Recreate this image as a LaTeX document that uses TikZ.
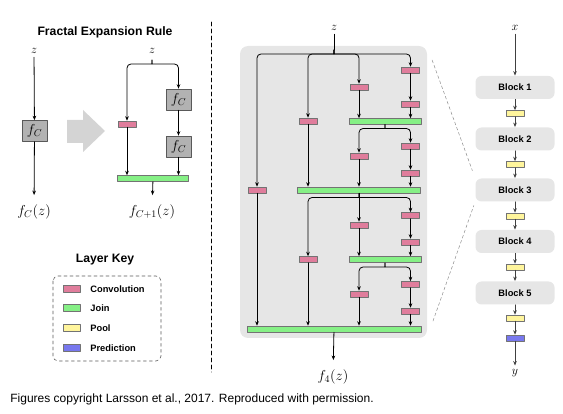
\documentclass[tikz,border=0pt]{standalone}
\usepackage{fontspec}
\setsansfont{Liberation Sans}
\usetikzlibrary{arrows.meta}
\definecolor{convpink}{HTML}{E07D9C}
\definecolor{joingreen}{HTML}{86F086}
\definecolor{poolyellow}{HTML}{FFF59C}
\definecolor{predblue}{HTML}{7878EE}
\definecolor{panelgray}{HTML}{E6E6E6}
\begin{document}
\begin{tikzpicture}[x=1pt, y=-1pt, line join=round, line cap=round, line width=0.8pt,
	>={Stealth[length=4.5pt,width=3.6pt]},
	lay/.style={draw=black!55, line width=0.5pt, minimum height=6pt, inner sep=0pt},
	conv/.style={lay, fill=convpink, minimum width=18pt},
	joinbar/.style={lay, fill=joingreen, minimum width=#1},
	pool/.style={lay, fill=poolyellow, minimum width=18pt},
	pred/.style={lay, fill=predblue, minimum width=18pt},
	fbox/.style={draw=black!65, line width=0.6pt, fill=black!30, minimum width=25pt, minimum height=21pt, inner sep=0pt, font=\fontsize{14}{16}\selectfont},
	block/.style={fill=panelgray, rounded corners=6pt, minimum width=79pt, minimum height=23pt, inner sep=0pt, font=\sffamily\bfseries\fontsize{9.3}{11}\selectfont},
	title/.style={font=\sffamily\bfseries\fontsize{12.2}{14}\selectfont},
	keylabel/.style={anchor=west, inner sep=0pt, font=\sffamily\bfseries\fontsize{9.3}{11}\selectfont},
	invar/.style={font=\fontsize{12}{14}\selectfont},
	outlabel/.style={font=\fontsize{14}{16}\selectfont}]
	\useasboundingbox (0,0) rectangle (563,414);
	\def\splitL#1#2#3{\draw[->, rounded corners=4pt] (#1,#2-4) .. controls (#1,#2) .. (#1-4,#2) -| (#3);}
	\def\splitR#1#2#3{\draw[->, rounded corners=4pt] (#1,#2-4) .. controls (#1,#2) .. (#1+4,#2) -| (#3);}
	
	% Fractal expansion rule
	\node[title] (rule) at (105,32) {Fractal Expansion Rule};
	\node[invar] (zL) at (34,51) {$z$};
	\node[fbox] (fL) at (34.5,131) {$f_C$};
	\node[outlabel] (outL) at (34,212) {$f_C(z)$};
	\draw[->] (zL) -- (fL);
	\draw[->, shorten >=6pt] (fL) -- (outL);
	\fill[black!17] (67,120) -- (83,120) -- (83,110) -- (105,131) -- (83,152) -- (83,143) -- (67,143) -- cycle;
	\node[invar] (zR) at (152,51) {$z$};
	\node[conv] (cR) at (127,124) {};
	\node[fbox] (fR1) at (178.5,99.5) {$f_C$};
	\node[fbox] (fR2) at (178.5,146.5) {$f_C$};
	\node[joinbar=71pt] (jR) at (153,178.5) {};
	\node[outlabel] (outR) at (152,212) {$f_{C+1}(z)$};
	\splitL{152}{64}{cR}
	\splitR{152}{64}{fR1}
	\draw[->] (fR1) -- (fR2);
	\draw[->] (fR2) -- (fR2 |- jR.north);
	\draw[->] (cR) -- (cR |- jR.north);
	\draw[->, shorten >=6pt] (jR) -- (outR);
	
	% Layer key
	\node[title] (key) at (105,260) {Layer Key};
	\draw[dashed, black!65, line width=0.6pt, rounded corners=5pt] (53,276) rectangle (161,361);
	\foreach \s/\t/\y in {conv/Convolution/289, pool/Pool/328, pred/Prediction/348}{
		\node[\s, minimum width=17pt, minimum height=7pt] (key\s) at (71.5,\y) {};
		\node[keylabel] (lab\s) at (90,\y) {\t};
	}
	\node[joinbar=17pt, minimum height=7pt] (keyjoin) at (71.5,308) {};
	\node[keylabel] (labjoin) at (90,308) {Join};
	
	\draw[dashed, line width=0.6pt, dash pattern=on 4pt off 3pt] (211,22) -- (211,372);
	
	% FractalNet block
	\fill[panelgray, rounded corners=8pt] (240,46) rectangle (427,338);
	\coordinate (bgNE) at (427,46);
	\coordinate (bgSE) at (427,338);
	\node[invar] (zM) at (334,28) {$z$};
	\coordinate (s0) at (334,50);
	\node[conv] (c1) at (257,190) {};
	\node[conv] (c2a) at (308,121) {};
	\node[conv] (c2b) at (308,259.5) {};
	\node[conv] (c3a) at (359,87) {};
	\node[conv] (c3b) at (359,156) {};
	\node[conv] (c3c) at (359,225) {};
	\node[conv] (c3d) at (359,294) {};
	\node[conv] (c4a) at (410.5,70) {};
	\node[conv] (c4b) at (410.5,104) {};
	\node[conv] (c4c) at (410.5,146) {};
	\node[conv] (c4d) at (410.5,173) {};
	\node[conv] (c4e) at (410.5,215.5) {};
	\node[conv] (c4f) at (410.5,242) {};
	\node[conv] (c4g) at (410.5,284.5) {};
	\node[conv] (c4h) at (410.5,311) {};
	\node[joinbar=72pt] (j1) at (385,121.5) {};
	\node[joinbar=123pt] (j2) at (359,190) {};
	\node[joinbar=72pt] (j3) at (385,259.5) {};
	\node[joinbar=174pt] (jF) at (334,329) {};
	\node[outlabel] (fM) at (333,377) {$f_4(z)$};
	\draw (zM) -- (s0);
	\splitL{334}{54}{c1}
	\splitL{334}{54}{c2a}
	\splitR{334}{54}{c3a}
	\splitR{334}{54}{c4a}
	\draw[->] (c4a) -- (c4b);
	\draw[->] (c4b) -- (c4b |- j1.north);
	\draw[->] (c3a) -- (c3a |- j1.north);
	\splitL{385}{128.5}{c3b}
	\splitR{385}{128.5}{c4c}
	\draw[->] (c4c) -- (c4d);
	\draw[->] (c4d) -- (c4d |- j2.north);
	\draw[->] (c3b) -- (c3b |- j2.north);
	\draw[->] (c2a) -- (c2a |- j2.north);
	\splitL{359}{197.5}{c2b}
	\splitR{359}{197.5}{c4e}
	\draw[->] (j2) -- (c3c);
	\draw[->] (c4e) -- (c4f);
	\draw[->] (c4f) -- (c4f |- j3.north);
	\draw[->] (c3c) -- (c3c |- j3.north);
	\splitL{385}{267}{c3d}
	\splitR{385}{267}{c4g}
	\draw[->] (c4g) -- (c4h);
	\draw[->] (c4h) -- (c4h |- jF.north);
	\draw[->] (c3d) -- (c3d |- jF.north);
	\draw[->] (c2b) -- (c2b |- jF.north);
	\draw[->] (c1) -- (c1 |- jF.north);
	\draw[->, shorten >=6pt] (jF) -- (fM);
	
	% Full network
	\node[invar] (xR) at (515,28) {$x$};
	\foreach \i/\y in {1/87.5, 2/139, 3/190, 4/241.5, 5/293}
		\node[block] (b\i) at (515,\y) {Block \i};
	\foreach \i/\y in {1/113.5, 2/164.5, 3/216, 4/267, 5/318}
		\node[pool] (p\i) at (515,\y) {};
	\node[pred] (pr) at (515,338) {};
	\node[invar] (yR) at (515,373) {$y$};
	\begin{scope}[draw=black!75]
		\draw[->] (xR) -- (b1);
		\foreach \i/\j in {1/2, 2/3, 3/4, 4/5}{
			\draw[->] (b\i) -- (p\i);
			\draw[->] (p\i) -- (b\j);
		}
		\draw[->] (b5) -- (p5);
		\draw[->] (p5) -- (pr);
		\draw[->] (pr) -- (yR);
	\end{scope}
	\draw[black!45, line width=0.5pt, dash pattern=on 3pt off 2.5pt, shorten <=15pt, shorten >=8pt] (bgNE) -- (b3.north west);
	\draw[black!45, line width=0.5pt, dash pattern=on 3pt off 2.5pt, shorten <=18pt, shorten >=4pt] (bgSE) -- (b3.south west);
	
	\node[anchor=west, inner sep=0pt, font=\sffamily\fontsize{12}{14}\selectfont] (credit) at (10,399) {Figures copyright Larsson et al., 2017. Reproduced with permission.};
\end{tikzpicture}
\end{document}
